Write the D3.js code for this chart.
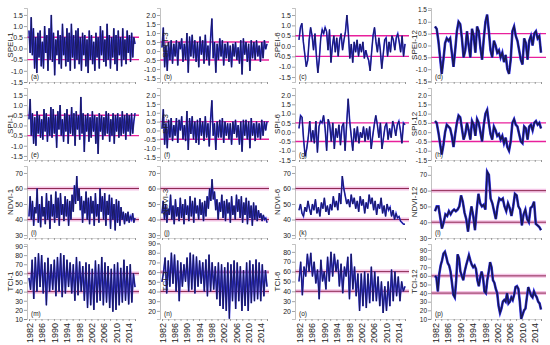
<!DOCTYPE html>
<html>
<head>
<meta charset="utf-8">
<script src="https://cdn.jsdelivr.net/npm/d3@7"></script>
<style>
  body { margin: 0; background: #fff; }
  svg { display: block; font-family: "Liberation Sans", Arial, sans-serif; }
</style>
</head>
<body>
<svg id="chart" width="550" height="345"></svg>
<script>
// ---- data (1982-2015) ----
var yearLabels = ["1982", "1986", "1990", "1994", "1998", "2002", "2006", "2010", "2014"];
var titles = ["SPEI-1", "SPEI-3", "SPEI-6", "SPEI-12", "SPI-1", "SPI-3", "SPI-6", "SPI-12",
              "NDVI-1", "NDVI-3", "NDVI-6", "NDVI-12", "TCI-1", "TCI-3", "TCI-6", "TCI-12"];
var letters = ["(a)", "(b)", "(c)", "(d)", "(e)", "(f)", "(g)", "(h)",
               "(i)", "(j)", "(k)", "(l)", "(m)", "(n)", "(o)", "(p)"];

var spei1 = [0.8, -0.2, 1.4, -0.3, 0.9, -0.9, 0.5, -1.1, 0.7, -0.4, 0.8, -0.8, 0.3, -0.9, 1.0, -0.2, 0.6, -1.0, 0.9, -0.5,
  1.5, -0.6, 0.7, -1.2, 0.4, -0.3, 0.8, -0.7, 0.6, -0.9, 1.1, -0.3, 0.5, -0.8, 0.9, -0.6, 0.7, -1.0, 1.1, -0.4,
  0.6, -0.9, 0.8, -0.5, 0.9, -0.7, 0.5, -1.0, 0.7, -0.3, 0.6, -0.8, 0.4, -1.1, 0.8, -0.5, 0.6, -0.7, 0.3, -1.0,
  0.7, -0.4, 0.5, -0.9, 1.0, -0.3, 0.8, -0.6, 0.4, -0.8, 1.1, -0.5, 0.6, -0.9, 0.5, -0.4, 0.9, -0.7, 0.6, -1.0,
  0.8, -0.3, 0.5, -0.8, 0.9, -0.5, 0.4, -0.7, 0.8, -0.2, 0.6, -0.6, 0.7, -0.4, 0.5, 0.2];
var spei3 = [0.2, 1.3, -0.9, 0.3, -1.1, 0.5, -0.5, 0.6, -0.7, 0.4, -0.3, 0.6, -0.8, 0.5, 0.1, 0.7, -0.6, 0.4, -0.5, 1.0,
  -1.2, 0.8, -0.3, 0.9, -0.4, 0.6, -0.6, 0.5, -0.9, 0.8, -0.2, 0.6, -0.7, 0.9, -0.5, 0.3, -0.8, 0.7, 1.8, -0.4,
  0.5, -1.2, 0.4, -0.5, 0.7, -0.3, 0.6, -0.8, 0.4, -0.4, 0.5, -0.6, 0.3, -0.9, 0.4, -0.3, 0.5, -0.5, 0.2, -0.7,
  0.6, -1.3, 0.7, -0.2, 0.5, -0.6, 0.4, -1.1, 0.6, -0.4, 0.5, -0.5, 0.6, -0.3, 0.3, -0.6, 0.5, -0.4, 0.6, 0.1, 0.4];
var spei6 = [0.3, 0.9, 1.1, 0.2, -0.4, -1.0, -0.7, 0.3, 0.9, 0.5, -0.2, 0.6, -0.5, -1.3, -0.6, 0.4, 0.8, 0.6, 0.9, 0.7,
  -0.2, 0.8, -0.8, 0.0, 0.5, -0.3, 0.4, -0.5, 0.3, 0.6, -0.2, 0.3, 0.7, 1.5, 0.6, -0.6, 0.1, -0.8, 0.2, -0.3,
  0.3, -0.5, 0.1, -0.3, 0.2, -0.6, -0.2, -0.5, -0.7, -1.2, -0.3, 0.5, 0.9, 0.2, -0.3, 0.4, -0.2, -1.1, -0.4, 0.3,
  0.4, -0.5, 0.2, -0.3, 0.5, 0.3, -0.2, 0.4, 0.6, 0.2, -0.3, 0.5, -0.5, 0.1];
var spei12 = [0.8, 0.7, 0.2, -0.5, -1.2, -0.6, 0.1, 0.3, 0.2, 0.3, -0.3, -0.9, -0.2, 0.6, 1.0, 0.9, 0.3, -0.5, -0.2, 0.6,
  0.0, -0.5, 0.7, 0.4, -0.3, 0.8, 0.6, -0.1, -0.6, 0.3, 1.0, 1.3, 0.6, -0.2, -0.5, 0.2, 0.0, -0.3, -0.2, -0.5,
  -0.3, -0.7, -0.4, -1.0, -1.2, -0.6, 0.6, 0.8, 0.4, 0.2, -0.2, -0.6, -0.8, 0.3, 0.1, -0.6, 0.2, 0.4, 0.0, 0.5,
  0.6, 0.3, 0.4, -0.3];

var spi1 = [0.3, 1.3, -0.5, 0.6, -0.9, 0.4, -1.0, 0.7, -0.4, 0.5, -0.6, 0.3, -0.7, 0.8, -0.3, 0.6, -0.8, 0.4, -0.5, 0.9,
  -0.6, 0.8, -0.4, 0.5, -1.1, 0.7, -0.2, 1.0, -0.5, 0.3, -0.8, 0.6, -0.3, 0.8, -0.9, 0.5, -0.4, 0.9, -0.5, 0.6,
  -1.0, 0.7, -0.2, 0.5, -0.7, 1.4, -0.4, 0.6, -1.3, 0.5, -0.3, 0.6, -0.8, 0.4, -0.6, 0.7, -0.3, 0.5, -0.9, 0.4,
  -1.4, 0.6, -0.3, 0.5, -0.7, 0.4, -0.5, 0.7, -0.4, 0.6, -0.8, 0.3, -0.5, 0.6, -0.9, 0.5, -0.3, 0.6, -0.6, 0.4,
  -0.5, 0.7, -0.4, 0.5, -0.7, 0.6, -0.3, 0.5, -0.5, 0.6, -0.4, 0.2, 0.6];
var spi3 = [0.1, 1.2, -0.8, 0.4, -1.0, 0.6, -0.4, 0.7, -0.6, 0.3, -0.3, 0.7, -0.7, 0.6, 0.0, 0.8, -0.5, 0.3, -0.6, 1.1,
  -1.1, 0.7, -0.2, 0.8, -0.5, 0.5, -0.7, 0.6, -0.8, 0.7, -0.3, 0.5, -0.6, 0.8, -0.4, 0.4, -0.9, 0.6, 1.7, -0.3,
  0.4, -1.1, 0.5, -0.4, 0.6, -0.4, 0.7, -0.7, 0.5, -0.3, 0.4, -0.5, 0.4, -0.8, 0.5, -0.2, 0.6, -0.4, 0.3, -0.8,
  0.5, -1.2, 0.6, -0.3, 0.6, -0.5, 0.5, -1.0, 0.7, -0.3, 0.4, -0.6, 0.5, -0.4, 0.4, -0.5, 0.6, -0.3, 0.5, 0.0, 0.5];
var spi6 = [0.2, 0.9, 0.8, -0.4, -1.3, -0.9, -0.3, 0.6, -0.5, 0.1, -0.6, 0.6, -1.1, 0.3, 0.6, 0.5, 0.9, 0.2, -1.0, 0.7,
  0.4, -0.5, 0.5, -0.9, 0.2, -0.3, 0.4, -0.7, 0.3, 0.5, -1.0, 0.4, 1.8, 0.6, -0.2, -1.0, 0.2, -0.5, 0.3, -0.6,
  0.0, -0.3, 0.3, -0.5, 0.2, -0.4, 0.3, -0.9, -0.2, 0.4, 0.9, 0.4, -0.3, 0.5, -0.9, -0.3, 0.3, 0.5, -0.4, 0.2,
  -0.3, 0.6, 0.3, -0.2, 0.4, 0.6, 0.1, -0.6, 0.5, 0.4];
var spi12 = [0.6, 0.5, 0.0, -0.6, -1.2, -0.7, 0.0, 0.4, 0.3, 0.2, -0.2, -0.8, -0.1, 0.5, 0.9, 0.8, 0.2, -0.4, -0.1, 0.5,
  0.1, -0.4, 0.6, 0.4, -0.2, 0.7, 0.5, 0.0, -0.5, 0.4, 1.0, 1.2, 0.5, -0.1, -0.4, 0.3, 0.1, -0.2, -0.1, -0.4,
  -0.2, -0.6, -0.3, -0.8, -1.0, -0.5, 0.5, 0.7, 0.4, 0.3, -0.1, -0.5, -0.6, 0.3, 0.2, -0.4, 0.3, 0.4, 0.1, 0.5,
  0.6, 0.4, 0.5, 0.2];

var ndvi1 = [42, 55, 40, 52, 36, 48, 44, 60, 38, 50, 35, 55, 42, 48, 37, 57, 40, 52, 34, 56,
  42, 50, 38, 58, 41, 54, 36, 57, 43, 50, 39, 55, 42, 53, 36, 52, 40, 56, 45, 62,
  50, 68, 52, 60, 46, 55, 38, 52, 44, 58, 40, 54, 37, 55, 44, 52, 36, 57, 42, 50,
  38, 60, 45, 55, 40, 57, 36, 52, 43, 56, 34, 54, 40, 50, 33, 53, 38, 52, 36, 48,
  40, 45, 37, 44, 39, 45, 38, 42, 40, 44, 38, 41];
var ndvi3 = [44, 52, 40, 50, 38, 47, 43, 56, 40, 49, 37, 53, 42, 48, 39, 54, 41, 50, 37, 53,
  43, 49, 39, 55, 42, 52, 38, 54, 44, 49, 40, 53, 43, 51, 39, 52, 42, 55, 47, 60,
  52, 66, 53, 58, 46, 53, 40, 51, 45, 56, 41, 52, 39, 53, 44, 51, 38, 55, 43, 49,
  40, 56, 45, 53, 41, 55, 38, 51, 43, 54, 37, 52, 41, 49, 36, 51, 40, 49, 39, 46,
  41, 44, 39, 43, 40, 41, 38];
var ndvi6 = [46, 50, 44, 42, 48, 45, 52, 47, 43, 50, 46, 53, 44, 48, 42, 51, 47, 54, 45, 49,
  43, 50, 46, 55, 48, 52, 46, 57, 50, 68, 60, 55, 50, 53, 48, 56, 50, 54, 47, 52,
  45, 55, 49, 53, 44, 51, 47, 56, 50, 54, 46, 52, 43, 50, 47, 54, 44, 49, 42, 50,
  46, 48, 42, 46, 40, 44, 41, 42, 39, 38, 37, 37];
var ndvi12 = [47, 50, 50, 43, 36, 40, 45, 44, 47, 45, 47, 48, 47, 48, 50, 57, 53, 46, 42, 34,
  43, 50, 44, 35, 48, 58, 52, 50, 51, 48, 72, 70, 55, 52, 47, 42, 50, 55, 54, 55,
  50, 47, 52, 49, 44, 50, 58, 57, 50, 48, 38, 45, 48, 42, 40, 49, 50, 53, 39, 38,
  37, 35];

var tci1 = [55, 42, 75, 32, 78, 40, 82, 45, 80, 38, 72, 25, 77, 40, 70, 42, 75, 35, 78, 40,
  82, 34, 80, 38, 75, 45, 72, 38, 70, 30, 78, 36, 73, 40, 68, 30, 72, 22, 70, 25,
  65, 20, 74, 28, 70, 30, 78, 25, 72, 28, 68, 22, 65, 18, 70, 20, 72, 25, 66, 28,
  75, 30, 68, 26, 70, 28, 60, 45];
var tci3 = [50, 60, 75, 38, 72, 45, 80, 48, 78, 40, 72, 30, 70, 45, 68, 50, 75, 40, 80, 42,
  78, 38, 76, 45, 72, 48, 70, 40, 73, 35, 78, 40, 70, 42, 66, 32, 70, 25, 68, 22,
  65, 20, 70, 12, 68, 30, 72, 22, 70, 30, 66, 20, 62, 25, 70, 20, 72, 28, 68, 30,
  73, 32, 70, 30, 68, 35, 62, 45];
var tci6 = [50, 70, 36, 65, 55, 78, 60, 79, 55, 70, 48, 62, 32, 72, 50, 60, 42, 75, 50, 80,
  55, 78, 60, 72, 45, 68, 38, 65, 55, 75, 32, 78, 42, 65, 35, 58, 20, 58, 25, 60,
  23, 58, 28, 65, 30, 60, 30, 55, 25, 50, 18, 45, 20, 50, 25, 62, 30, 60, 35, 55,
  30, 50, 40, 45];
var tci12 = [60, 58, 42, 62, 72, 78, 86, 88, 82, 75, 72, 65, 52, 38, 35, 55, 85, 80, 65, 60,
  55, 65, 72, 78, 84, 78, 73, 70, 72, 68, 55, 48, 58, 65, 58, 42, 40, 55, 65, 76,
  70, 55, 52, 45, 40, 25, 17, 22, 30, 32, 30, 40, 28, 30, 35, 32, 38, 47, 48, 45,
  30, 10, 15, 20, 22, 35, 47, 42, 37, 35, 42, 38, 35, 30, 28, 21];

var speiTicks = [-1.5, -1, -0.5, 0, 0.5, 1, 1.5];
var speiTicks2 = [-1.5, -1, -0.5, 0, 0.5, 1, 1.5, 2];
var ndviTicks = [30, 40, 50, 60, 70];
var tciTicks = [10, 20, 30, 40, 50, 60, 70, 80, 90];
var tciTicks3 = [20, 30, 40, 50, 60, 70, 80, 90];
var tciTicks6 = [20, 30, 40, 50, 60, 70, 80];
var dryWet = [-0.5, 0.5];
var vciBands = [40, 60];

// ---- layout ----
var svg = d3.select("#chart");
var axisX = [27, 160, 295, 431];
var plotX = [[29, 135], [162, 267], [299, 405], [435, 541]];
var plotR = [139, 269, 409, 546];
var rowY = [[82, 8], [160, 88], [238, 166], [319, 244]];
var titleX = [10, 165, 277, 414];
var tickFont = [7, 7, 7, 6.5];

var series = [spei1, spei3, spei6, spei12, spi1, spi3, spi6, spi12,
              ndvi1, ndvi3, ndvi6, ndvi12, tci1, tci3, tci6, tci12];
var domains = [[-1.5, 1.81], [-1.72, 2.39], [-1.74, 1.84], [-1.54, 1.58],
               [-1.7, 1.84], [-1.67, 2.4], [-1.5, 2.38], [-1.5, 2.38],
               [28.1, 74.5], [28.1, 74.5], [28.1, 74.5], [30, 75.6],
               [10, 92.2], [11.6, 89], [11.9, 88], [9.9, 97]];
var tickSets = [speiTicks, speiTicks2, speiTicks, speiTicks, speiTicks, speiTicks2, speiTicks2, speiTicks2,
                ndviTicks, ndviTicks, ndviTicks, ndviTicks, tciTicks, tciTicks3, tciTicks6, tciTicks];

series.forEach(function(vals, i) {
  var row = Math.floor(i / 4), col = i % 4;
  var x = d3.scaleLinear().domain([1982, 2016]).range(plotX[col]);
  var y = d3.scaleLinear().domain(domains[i]).range(rowY[row]);
  var g = svg.append("g");
  var thr = row < 2 ? dryWet : vciBands;

  // threshold lines
  thr.forEach(function(t) {
    if (row >= 2) {
      g.append("line")
        .attr("x1", axisX[col]).attr("x2", plotR[col])
        .attr("y1", y(t)).attr("y2", y(t))
        .attr("stroke", "#f4c4e6").attr("stroke-width", 4);
    }
    g.append("line")
      .attr("x1", axisX[col]).attr("x2", plotR[col])
      .attr("y1", y(t)).attr("y2", y(t))
      .attr("stroke", row < 2 ? "#e8209c" : "#8e2a52")
      .attr("stroke-width", row < 2 ? 1.4 : 1);
  });

  // series
  var n = vals.length;
  var line = d3.line()
    .x(function(d, k) { return x(1982 + 34 * k / (n - 1)); })
    .y(function(d) { return y(d); });
  g.append("path").datum(vals)
    .attr("d", line).attr("fill", "none")
    .attr("stroke", "#3434ee").attr("stroke-width", col == 3 ? 2.6 : 1.6);
  g.append("path").datum(vals)
    .attr("d", line).attr("fill", "none")
    .attr("stroke", "#181850").attr("stroke-width", col == 3 ? 1.5 : 0.9);

  // left axis
  var ya = g.append("g")
    .attr("transform", "translate(" + axisX[col] + ",0)")
    .call(d3.axisLeft(y).tickValues(tickSets[i]).tickSize(3).tickPadding(1)
      .tickFormat(function(d) { return row < 2 ? d.toFixed(1) : d; }));
  ya.select(".domain").attr("stroke", "#999").attr("stroke-width", 0.6);
  ya.selectAll(".tick line").attr("stroke", "#666").attr("stroke-width", 0.6);
  ya.selectAll("text").attr("font-size", tickFont[col]).attr("fill", "#222");

  // bottom axis
  var xa = g.append("g")
    .attr("transform", "translate(0," + rowY[row][0] + ")")
    .call(d3.axisBottom(x).tickValues(d3.range(1982, 2017, 2)).tickSize(2).tickFormat(""));
  xa.select(".domain").attr("stroke", "#bbb").attr("stroke-width", 0.6);
  xa.selectAll(".tick line").attr("stroke", "#666").attr("stroke-width", 0.6);
  if (row == 3) {
    var lab = g.append("g")
      .attr("transform", "translate(0," + rowY[row][0] + ")")
      .call(d3.axisBottom(x).tickValues(yearLabels.map(Number)).tickSize(0).tickFormat(d3.format("d")));
    lab.select(".domain").remove();
    lab.selectAll("text")
      .attr("x", -4).attr("y", 0).attr("dy", "0.35em")
      .attr("transform", "rotate(-90)")
      .style("text-anchor", "end")
      .attr("font-size", 9).attr("fill", "#222");
  }

  // titles and panel letters
  g.append("text")
    .attr("transform", "translate(" + titleX[col] + "," + (rowY[row][0] + rowY[row][1]) / 2 + ") rotate(-90)")
    .attr("text-anchor", "middle").attr("dy", "0.35em")
    .attr("font-size", 8).attr("fill", "#222")
    .text(titles[i]);
  g.append("text")
    .attr("x", axisX[col] + 4).attr("y", rowY[row][0] - 3)
    .attr("font-size", 6.5).attr("fill", "#222")
    .text(letters[i]);
});
</script>
</body>
</html>
